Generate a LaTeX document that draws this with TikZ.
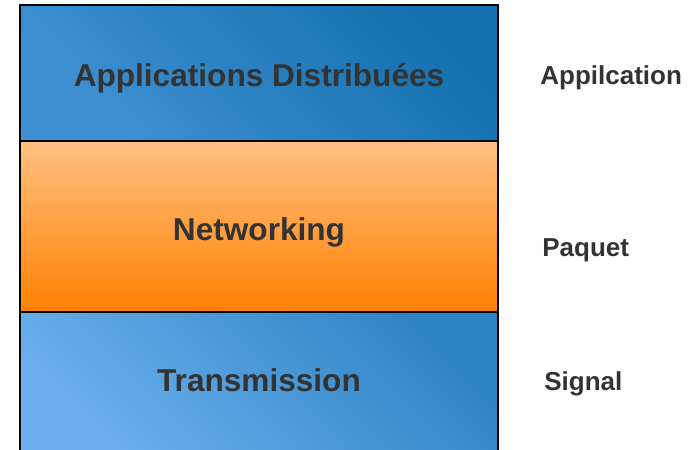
\documentclass[tikz,border=0pt]{standalone}
\usepackage{fontspec}
\setmainfont{Liberation Sans}
\usetikzlibrary{positioning}
\definecolor{appdark}{HTML}{1470AE}
\definecolor{applight}{HTML}{3F90D2}
\definecolor{nettop}{HTML}{FFC082}
\definecolor{netbot}{HTML}{FF8000}
\definecolor{trdark}{HTML}{2F84C5}
\definecolor{trlight}{HTML}{6CB1EF}
\definecolor{labelgray}{HTML}{333333}

\begin{document}
\begin{tikzpicture}[
    x=0.5pt, y=-0.5pt,
    layer/.style={rectangle, draw=black, line width=0.8pt, minimum width=239pt, inner sep=0pt, text height=16pt, text depth=2.5pt, font=\bfseries\fontsize{15.8}{19}\selectfont, text=labelgray},
    side/.style={anchor=west, inner sep=0pt, font=\bfseries\fontsize{13}{16}\selectfont, text=labelgray}
]
    \clip (0,0) rectangle (693,450);

    \node [layer, minimum height=68pt, bottom color=applight, top color=appdark, shading angle=-45] (app) at (259,73) {Applications Distribuées};
    \node [layer, minimum height=85.5pt, top color=nettop, bottom color=netbot] (net) at (259,226.5) {Networking};
    \node [layer, minimum height=76pt, text depth=12.5pt, bottom color=trlight, top color=trdark, shading angle=-45] (trans) at (259,388) {Transmission};

    \node [side] (lapp) at (540,78) {Appilcation};
    \node [side] (lnet) at (542,250) {Paquet};
    \node [side] (ltrans) at (544,384) {Signal};
\end{tikzpicture}
\end{document}
